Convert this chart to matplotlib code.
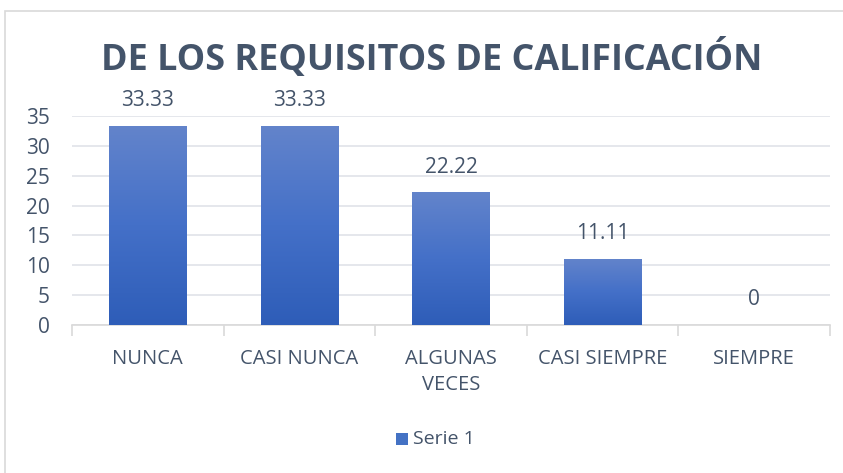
import numpy as np
import matplotlib.pyplot as plt
from matplotlib.patches import Rectangle
from matplotlib.colors import LinearSegmentedColormap

categorias = ["NUNCA", "CASI NUNCA", "ALGUNAS\nVECES", "CASI SIEMPRE", "SIEMPRE"]
valores = [33.33, 33.33, 22.22, 11.11, 0]
etiquetas = ["33.33", "33.33", "22.22", "11.11", "0"]
yticks = [0, 5, 10, 15, 20, 25, 30, 35]

texto = "#44546A"
rejilla = "#E3E5EA"

plt.rcParams['font.family'] = ['Open Sans', 'DejaVu Sans']

fig = plt.figure(figsize=(8.43, 4.73), dpi=100)
ax = fig.add_axes([72/843, 148/473, 758/843, 209/473])

x = np.arange(len(categorias))
bars = ax.bar(x, valores, width=0.51, color="#4472C4", zorder=2)

# gradient fill on each bar
grad = np.linspace(0, 1, 256).reshape(-1, 1)
cmap = LinearSegmentedColormap.from_list("g", ["#2E5DB8", "#4470C8", "#6384CB"])
for b in bars:
    if b.get_height() <= 0:
        b.set_visible(False)
        continue
    bx, by = b.get_x(), b.get_y()
    im = ax.imshow(grad, extent=[bx, bx + b.get_width(), by, by + b.get_height()],
                   origin="lower", cmap=cmap, aspect="auto", zorder=3)
    im.set_clip_path(b)

for xi, v, lab in zip(x, valores, etiquetas):
    ax.text(xi, v + 4.2, lab, ha="center", va="center", fontsize=15, color=texto)

ax.set_xlim(-0.5, len(categorias) - 0.5)
ax.set_ylim(0, 35)
ax.set_yticks(yticks)
ax.set_yticklabels([str(t) for t in yticks], fontsize=15, color=texto)
ax.yaxis.grid(True, color=rejilla, linewidth=1.3, zorder=0)
ax.set_axisbelow(True)

ax.set_xticks(x)
ax.set_xticklabels(categorias, fontsize=14.5, color=texto, linespacing=1.45, va="top")
ax.tick_params(axis="x", length=0, pad=17)
ax.tick_params(axis="y", length=0, pad=16)
ax.set_xticks(np.arange(-0.5, len(categorias)), minor=True)
ax.tick_params(axis="x", which="minor", length=8, color="#D9D9D9", width=1.2)

for s in ["top", "right", "left"]:
    ax.spines[s].set_visible(False)
ax.spines["bottom"].set_color("#D9D9D9")
ax.spines["bottom"].set_linewidth(1.2)

fig.text(432/843, 1 - 59/473, "DE LOS REQUISITOS DE CALIFICACIÓN", ha="center", va="center",
         fontsize=25.8, fontweight="bold", color=texto)

# legend
fig.patches.append(Rectangle((396/843, 1 - 445/473), 12/843, 12/473, transform=fig.transFigure,
                             facecolor="#4472C4", edgecolor="none"))
fig.text(413/843, 1 - 439/473, "Serie 1", ha="left", va="center", fontsize=14, color=texto)

# chart border
fig.patches.append(Rectangle((5/843, -0.01), 1.0, 1 - 11/473 + 0.01, transform=fig.transFigure,
                             facecolor="none", edgecolor="#D9D9D9", linewidth=1.2))

fig.savefig("out.png", dpi=100)
